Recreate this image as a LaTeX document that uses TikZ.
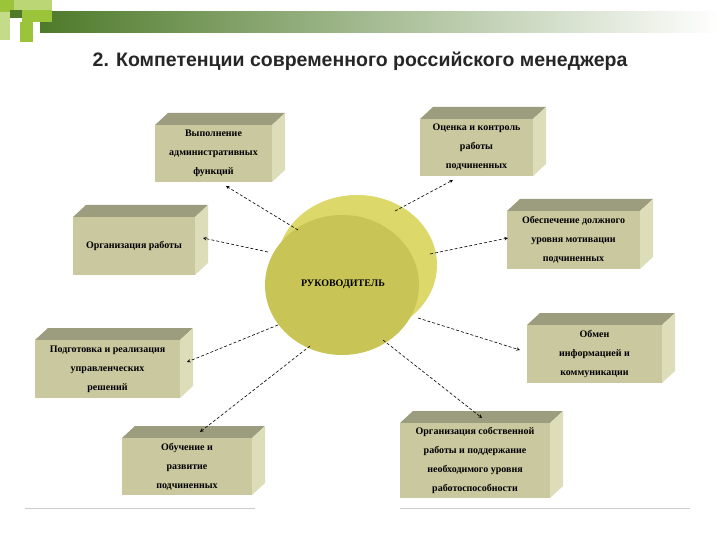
\documentclass[tikz,border=0pt]{standalone}
\usepackage{fontspec}
\setmainfont{Liberation Serif}
\newfontfamily\hd{Liberation Sans}
\definecolor{bfront}{HTML}{C9C89E}
\definecolor{btop}{HTML}{9C9C7E}
\definecolor{bside}{HTML}{DEDDBA}
\definecolor{gdark}{HTML}{4E7A2A}
\definecolor{glite}{HTML}{9CC43A}
\definecolor{yfront}{HTML}{C8C455}
\definecolor{yback}{HTML}{DCD86A}
\tikzset{x=1pt,y=-1pt,
 boxtext/.style={align=center,font=\bfseries\fontsize{10}{19}\selectfont,inner sep=0pt,fill=bfront},
 conn/.style={-stealth,densely dashed,semithick,black}}
\newcommand{\cubebox}[6]{%
 \fill[btop] (#2,#3)--(#2+13,#3-12)--(#4+13,#3-12)--(#4,#3)--cycle;
 \fill[bside] (#4,#3)--(#4+13,#3-12)--(#4+13,#5-12)--(#4,#5)--cycle;
 \node[boxtext,minimum width={#4-#2},minimum height={#5-#3}] (#1) at ({(#2+#4)/2},{(#3+#5)/2}) {#6};}
\begin{document}
\begin{tikzpicture}
\useasboundingbox (0,0) rectangle (720,540);
\fill[white] (0,0) rectangle (720,540);
% header
\shade[left color=gdark,right color=white] (40,12) rectangle (720,33);
\fill[glite] (0,0) rectangle (14,12);
\fill[glite!70] (14,0) rectangle (52,12);
\fill[gdark] (10,10) rectangle (22,18);
\fill[glite] (22,10) rectangle (52,22);
\fill[glite] (20,22) rectangle (33,42);
\fill[glite!60] (0,12) rectangle (10,40);
\node[font=\hd\bfseries\fontsize{19.5}{22}\selectfont,text=black!85] (title) at (360,61) {2. Компетенции современного российского менеджера};
% circle
\fill[yback] (357,265) ellipse (80 and 70);
\fill[yfront] (342,285) ellipse (77 and 70);
\node[font=\bfseries\fontsize{10}{10}\selectfont] (ruk) at (343,284) {РУКОВОДИТЕЛЬ};
% boxes
\cubebox{b1}{155}{125}{272}{182}{Выполнение\\административных\\функций}
\cubebox{b2}{73}{217}{195}{275}{Организация работы}
\cubebox{b3}{420}{119}{533}{176}{Оценка и контроль\\работы\\подчиненных}
\cubebox{b4}{507}{211}{640}{269}{Обеспечение должного\\уровня мотивации\\подчиненных}
\cubebox{b5}{527}{325}{662}{383}{Обмен\\информацией и\\коммуникации}
\cubebox{b6}{400}{423}{550}{498}{Организация собственной\\работы и поддержание\\необходимого уровня\\работоспособности}
\cubebox{b7}{122}{438}{252}{495}{Обучение и\\развитие\\подчиненных}
\cubebox{b8}{35}{340}{180}{398}{Подготовка и реализация\\управленческих\\решений}
% connectors
\coordinate (c1) at (298,230); \coordinate (c2) at (268,252);
\coordinate (c3) at (395,211); \coordinate (c4) at (430,254);
\coordinate (c5) at (418,318); \coordinate (c6) at (383,340);
\coordinate (c7) at (310,346); \coordinate (c8) at (278,325);
\coordinate (e1) at (226,186); \coordinate (e2) at (203,238);
\coordinate (e3) at (453,180); \coordinate (e4) at (508,238);
\coordinate (e5) at (520,350); \coordinate (e6) at (482,418);
\coordinate (e7) at (200,432); \coordinate (e8) at (187,362);
\foreach \i in {1,...,8} \draw[conn] (c\i) -- (e\i);
\draw[black!20,thin] (25,508) -- (255,508) (400,508) -- (690,508);
\end{tikzpicture}
\end{document}
